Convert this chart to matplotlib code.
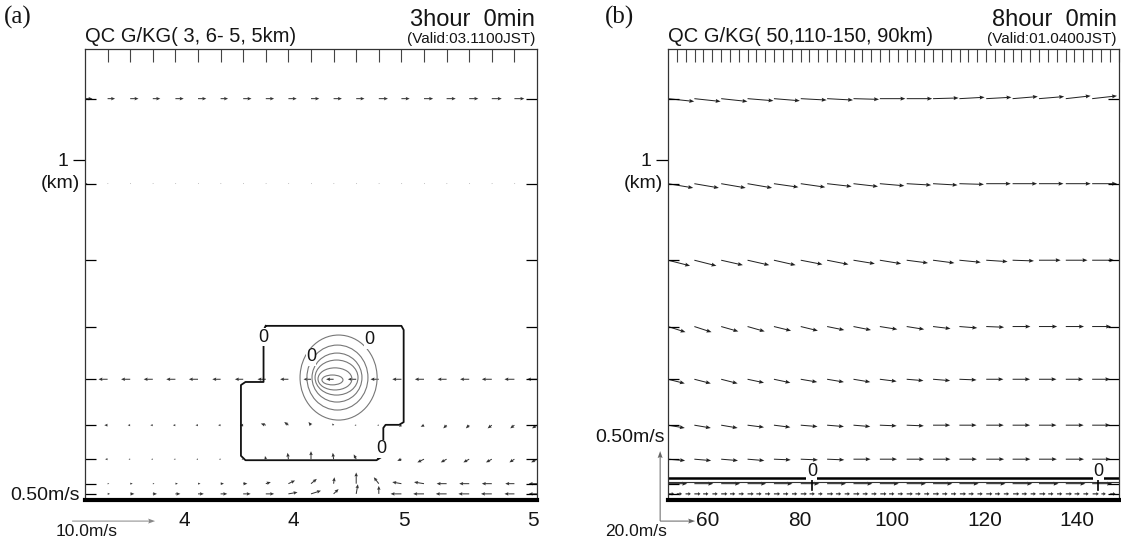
import matplotlib
matplotlib.use('Agg')
import matplotlib.pyplot as plt
from matplotlib.patches import Ellipse
from matplotlib.ticker import FixedLocator
import numpy as np

plt.rcParams['font.family'] = ['Liberation Sans', 'DejaVu Sans']

W, H = 1121, 542

# model levels (km) shared by both panels
levels = [1.18, 0.93, 0.705, 0.51, 0.355, 0.22, 0.12, 0.048, 0.018]

# ---- panel (a) : 3 hour, x in km ----
xa = [3.5, 3.6, 3.7, 3.8, 3.9, 4.0, 4.1, 4.2, 4.3, 4.4, 4.5,
      4.6, 4.7, 4.8, 4.9, 5.0, 5.1, 5.2, 5.3, 5.4, 5.5]
ua = [
    [0.9, 0.9, 1.0, 0.9, 1.0, 1.0, 0.9, 1.0, 1.0, 1.0, 1.0, 1.0, 1.0, 1.1, 1.0, 1.1, 1.1, 1.1, 1.2, 1.2, 1.3],
    [0.3, 0.1, 0.1, 0.1, 0.1, 0.1, 0.1, 0.1, 0.1, 0.1, 0.1, 0.1, 0.1, 0.1, 0.1, 0.1, 0.1, 0.1, 0.1, 0.1, 0.3],
    [0.0, 0.0, 0.0, 0.0, 0.0, 0.0, 0.0, 0.0, 0.0, 0.0, 0.0, 0.0, 0.0, 0.0, 0.0, 0.0, 0.0, 0.0, 0.0, 0.0, 0.0],
    [0.0, 0.0, 0.0, 0.0, 0.0, 0.0, 0.0, 0.0, 0.0, 0.0, 0.0, 0.0, 0.0, 0.0, 0.0, 0.0, 0.0, 0.0, 0.0, 0.0, 0.0],
    [-1.2, -1.1, -1.1, -1.1, -1.1, -1.1, -1.0, -1.0, -1.0, -1.0, -0.9, -0.9, -1.0, -1.0, -1.1, -1.1, -1.1, -1.1, -1.2, -1.2, -1.2],
    [-0.8, -0.4, -0.3, -0.3, -0.3, -0.3, -0.3, -0.4, -0.6, -0.5, -0.3, -0.2, -0.2, -0.2, -0.3, -0.4, -0.4, -0.4, -0.5, -0.5, -0.6],
    [-0.8, -0.3, -0.2, -0.2, -0.2, -0.2, -0.2, -0.2, -0.1, -0.1, 0.0, -0.1, -0.3, -0.3, -0.5, -0.8, -0.7, -0.7, -0.7, -0.6, -0.7],
    [-0.8, 0.2, 0.3, 0.2, 0.3, 0.3, 0.4, 0.5, 0.6, 0.8, 0.7, 0.1, 0.0, -0.6, -1.1, -1.2, -1.2, -1.2, -1.2, -1.1, -1.0],
    [-0.6, 0.3, 0.5, 0.5, 0.6, 0.7, 0.8, 0.9, 1.0, 1.1, 1.2, 0.6, 0.2, 0.0, -1.3, -1.3, -1.3, -1.3, -1.3, -1.2, -1.0],
]
wa = [
    [0] * 21,
    [0] * 21,
    [0] * 21,
    [0] * 21,
    [0] * 21,
    [0, 0, 0, 0, 0, 0, 0, 0, 0.01, 0.02, 0.02, 0.01, 0, 0, -0.01, -0.01, -0.02, -0.02, -0.02, -0.02, -0.02],
    [0, 0, 0, 0, 0, 0, 0, 0, 0.02, 0.04, 0.05, 0.04, 0.03, 0.02, -0.01, -0.02, -0.02, -0.02, -0.02, -0.02, -0.02],
    [0, 0, 0, 0, 0, 0, 0, 0, 0.01, 0.02, 0.03, 0.04, 0.07, 0.04, 0.01, 0.01, 0, 0, 0, 0, 0],
    [0, 0, 0, 0, 0, 0, 0, 0, 0, 0.01, 0.02, 0.03, 0.06, 0.05, 0, 0, 0, 0, 0, 0, 0],
]
# cloud boundary (QC = 0 contour)
cont0_x = [4.30, 4.90, 4.91, 4.91, 4.89, 4.83, 4.82, 4.82, 4.79, 4.21, 4.19, 4.19, 4.21, 4.29, 4.29, 4.30]
cont0_z = [0.512, 0.512, 0.50, 0.229, 0.221, 0.221, 0.212, 0.130, 0.117, 0.117, 0.130, 0.338, 0.347, 0.347, 0.50, 0.512]
# inner QC contours: centre, width, height
loop_x = [4.622, 4.617, 4.615, 4.613, 4.606, 4.595]
loop_z = [0.360, 0.360, 0.360, 0.360, 0.356, 0.353]
loop_w = [0.341, 0.270, 0.221, 0.190, 0.150, 0.093]
loop_h = [0.250, 0.191, 0.144, 0.103, 0.065, 0.029]
lab_a_x = [4.288, 4.757, 4.50, 4.81]
lab_a_z = [0.479, 0.471, 0.421, 0.150]
ticks_a = [3.94, 4.42, 4.91, 5.48]
ticklab_a = ['4', '4', '5', '5']

# ---- panel (b) : 8 hour, x in km ----
xb = [51.5, 57.2, 63.0, 68.7, 74.4, 80.2, 85.9, 91.6, 97.3, 103.1, 108.8,
      114.5, 120.3, 126.0, 131.7, 137.5, 143.2]
ub = [
    [15.0, 15.0, 15.0, 14.8, 14.8, 14.8, 14.8, 14.6, 14.6, 14.6, 14.6, 14.4, 14.4, 14.4, 14.4, 14.2, 14.2],
    [14.4, 14.0, 14.0, 14.0, 14.0, 14.0, 14.0, 14.0, 14.0, 14.0, 14.0, 14.0, 14.0, 14.0, 14.0, 14.2, 14.2],
    [12.6, 12.6, 12.4, 12.4, 12.4, 12.4, 12.2, 12.2, 12.2, 12.2, 12.2, 12.2, 12.2, 12.2, 12.4, 12.4, 12.6],
    [10.0, 9.8, 9.8, 9.8, 9.8, 9.8, 9.8, 10.0, 10.0, 10.0, 10.0, 10.2, 10.2, 10.2, 10.4, 10.4, 10.8],
    [9.6, 9.4, 9.4, 9.4, 9.4, 9.4, 9.6, 9.6, 9.6, 9.6, 9.8, 9.8, 9.8, 10.0, 10.0, 10.0, 10.4],
    [9.6, 9.4, 9.4, 9.4, 9.4, 9.6, 9.6, 9.6, 9.6, 9.8, 9.8, 9.8, 10.0, 10.0, 10.0, 10.2, 10.4],
    [9.8, 9.6, 9.6, 9.6, 9.6, 9.8, 9.8, 9.8, 9.8, 10.0, 10.0, 10.0, 10.2, 10.2, 10.2, 10.4, 10.6],
    [11.0, 10.8, 10.8, 10.6, 10.6, 10.6, 10.8, 10.8, 10.8, 11.0, 11.0, 11.0, 11.0, 11.2, 11.2, 11.2, 11.4],
]
wb = [
    [-0.02, -0.02, -0.02, -0.015, -0.015, -0.01, -0.01, -0.005, 0.0, 0.0, 0.005, 0.01, 0.01, 0.015, 0.015, 0.02, 0.02],
    [-0.03, -0.03, -0.03, -0.03, -0.025, -0.025, -0.02, -0.02, -0.015, -0.01, -0.01, -0.005, 0.0, 0.0, 0.0, 0.0, 0.0],
    [-0.04, -0.04, -0.035, -0.035, -0.035, -0.03, -0.03, -0.025, -0.025, -0.02, -0.02, -0.015, -0.01, -0.005, 0.0, 0.0, 0.0],
    [-0.04, -0.04, -0.035, -0.035, -0.03, -0.03, -0.025, -0.025, -0.02, -0.02, -0.015, -0.01, -0.005, 0.0, 0.0, 0.0, 0.0],
    [-0.03, -0.03, -0.03, -0.025, -0.025, -0.02, -0.02, -0.02, -0.015, -0.01, -0.01, -0.005, 0.0, 0.0, 0.0, 0.0, 0.0],
    [-0.02, -0.02, -0.02, -0.015, -0.015, -0.01, -0.01, -0.01, -0.005, -0.005, 0.0, 0.0, 0.0, 0.0, 0.0, 0.0, 0.0],
    [-0.01, -0.01, -0.01, -0.01, -0.005, -0.005, -0.005, 0.0, 0.0, 0.0, 0.0, 0.0, 0.0, 0.0, 0.0, 0.0, 0.0],
    [0.0, 0.0, 0.0, 0.0, 0.0, 0.0, 0.0, 0.0, 0.0, 0.0, 0.0, 0.0, 0.0, 0.0, 0.0, 0.0, 0.0],
]
# near-surface row on the fine grid
xb_sfc = [51.5, 53.4, 55.3, 57.2, 59.1, 61.1, 63.0, 64.9, 66.8, 68.7, 70.6, 72.5, 74.4, 76.4, 78.3,
          80.2, 82.1, 84.0, 85.9, 87.8, 89.7, 91.6, 93.6, 95.5, 97.4, 99.3, 101.2, 103.1, 105.0,
          106.9, 108.8, 110.8, 112.7, 114.6, 116.5, 118.4, 120.3, 122.2, 124.1, 126.1, 128.0,
          129.9, 131.8, 133.7, 135.6, 137.5, 139.4, 141.3, 143.3, 145.2, 147.1]
ub_sfc = [3.5, 3.0, 3.0, 3.5, 3.0, 3.0, 3.5, 3.0, 3.0, 3.5, 3.0, 3.0, 3.5, 3.0, 3.0, 3.5, 3.0,
          2.5, 3.5, 3.0, 3.0, 3.5, 3.0, 3.0, 3.5, 3.0, 3.0, 3.5, 3.0, 3.0, 3.5, 3.0, 3.0, 3.5,
          3.0, 3.0, 3.5, 3.0, 3.0, 3.5, 3.0, 3.0, 3.5, 3.0, 3.0, 3.5, 3.0, 3.0, 3.5, 2.5, 3.0]
cont_b_x = [51.5, 149.0]
cont_b_z = [0.064, 0.064]
lab_b_x = [82.6, 144.5]
lab_b_z = [0.085, 0.085]
ticks_b = [60, 80, 100, 120, 140]

ink = '#151515'


def fx(px):
    return px / W


def fy(py):
    return 1 - py / H


fig = plt.figure(figsize=(W / 100, H / 100), dpi=100)
ax_a = fig.add_axes([fx(85), fy(500), 452 / W, 451 / H])
ax_b = fig.add_axes([fx(668), fy(500), 451 / W, 451 / H])


def frame(ax, xlim, top_ticks):
    ax.set_xlim(*xlim)
    ax.set_ylim(0, 1.326)
    for s in ax.spines.values():
        s.set_color('#333333')
        s.set_linewidth(0.9)
    ax.spines['bottom'].set_linewidth(3)
    ax.spines['bottom'].set_color('black')
    ax.set_yticks([1])
    ax.set_yticklabels(['1'], fontsize=14, color=ink)
    ax.yaxis.set_minor_locator(FixedLocator(levels))
    ax.tick_params(axis='y', which='major', direction='out', length=9, width=0.9, left=True, right=False, pad=3)
    ax.tick_params(axis='y', which='minor', direction='in', length=8, width=0.9, left=True, right=True)
    ax.xaxis.set_minor_locator(FixedLocator(top_ticks))
    ax.tick_params(axis='x', which='minor', direction='in', length=9, width=0.8,
                   top=True, bottom=False, color='#444444')
    ax.tick_params(axis='x', which='major', length=0, pad=8, labelsize=15, labelcolor=ink)
    ax.text(-0.012, 0.93, '(km)', transform=ax.get_yaxis_transform(), ha='right', va='center',
            fontsize=14, color=ink)


# ---------------- panel (a) ----------------
frame(ax_a, (3.5, 5.5), xa[1:-1])
ax_a.set_xticks(ticks_a)
ax_a.set_xticklabels(ticklab_a)

ratio_a = 19.3
for z, u, w in zip(levels, ua, wa):
    u = np.array(u, dtype=float)
    w = np.array(w, dtype=float)
    keep = (np.abs(u) + np.abs(w)) > 0
    if keep.any():
        ax_a.quiver(np.array(xa)[keep], np.full(keep.sum(), z), u[keep], w[keep] * ratio_a,
                    angles='uv', scale_units='dots', scale=1 / 8.3, pivot='tail',
                    units='dots', width=1.0, headwidth=3.5, headlength=4, headaxislength=3.5,
                    minshaft=1, minlength=0.8, color='#333333')

for cx, cz, ew, eh in zip(loop_x, loop_z, loop_w, loop_h):
    ax_a.add_patch(Ellipse((cx, cz), ew, eh, fill=False, ec='#777777', lw=0.8))
ax_a.plot(cont0_x, cont0_z, color='#111111', lw=1.3)
for lx, lz in zip(lab_a_x, lab_a_z):
    ax_a.text(lx, lz, '0', ha='center', va='center', fontsize=13, color=ink,
              bbox=dict(fc='white', ec='none', pad=0.3))

# reference arrow (a)
qa = ax_a.quiver([3.443], [-0.062], [10.0], [0.0], angles='uv', scale_units='dots', scale=1 / 8.3,
                 pivot='tail', units='dots', width=1.0, headwidth=5, headlength=7, headaxislength=6,
                 color='#888888')
qa.set_clip_on(False)
fig.text(fx(87), fy(532), '10.0m/s', ha='center', va='center', fontsize=12.5, color=ink)
fig.text(fx(80), fy(495), '0.50m/s', ha='right', va='center', fontsize=14, color=ink)

# ---------------- panel (b) ----------------
fine = np.arange(51.5 + 1.91, 149.0, 1.91)
frame(ax_b, (51.5, 149.0), fine)
ax_b.set_xticks(ticks_b)
ax_b.set_xticklabels([str(t) for t in ticks_b])

ratio_b = 80
for z, u, w in zip(levels[:8], ub, wb):
    ax_b.quiver(xb, np.full(len(xb), z), u, np.array(w) * ratio_b,
                angles='uv', scale_units='dots', scale=1 / 1.75, pivot='tail',
                units='dots', width=1.0, headwidth=4, headlength=5, headaxislength=4.5,
                color='#222222')
ax_b.quiver(xb_sfc, np.full(len(xb_sfc), levels[8]), ub_sfc, np.zeros(len(xb_sfc)),
            angles='uv', scale_units='dots', scale=1 / 1.75, pivot='tail',
            units='dots', width=1.2, headwidth=3, headlength=2, headaxislength=2,
            color='#333333')
ax_b.plot(cont_b_x, cont_b_z, color='black', lw=1.8)
ax_b.plot(cont_b_x, [0.052, 0.052], color='#333333', lw=0.8)
for lx, lz in zip(lab_b_x, lab_b_z):
    ax_b.plot([lx, lx], [0.075, 0.03], color='black', lw=1.2)
    ax_b.text(lx, lz, '0', ha='center', va='center', fontsize=13, color=ink,
              bbox=dict(fc='white', ec='none', pad=0.3))

# reference arrows (b)
qb = ax_b.quiver([49.8, 49.8], [-0.062, -0.062], [20.0, 0.0], [0.0, 0.5 * ratio_b],
                 angles='uv', scale_units='dots', scale=1 / 1.75, pivot='tail',
                 units='dots', width=1.0, headwidth=5, headlength=7, headaxislength=6,
                 color='#666666')
qb.set_clip_on(False)
fig.text(fx(636), fy(532), '20.0m/s', ha='center', va='center', fontsize=12.5, color=ink)
fig.text(fx(665), fy(437), '0.50m/s', ha='right', va='center', fontsize=14, color=ink)

# ---------------- headings ----------------
fig.text(fx(4), fy(17), '(a)', family=['Liberation Serif', 'DejaVu Serif'], fontsize=18,
         ha='left', va='center', color=ink)
fig.text(fx(605), fy(17), '(b)', family=['Liberation Serif', 'DejaVu Serif'], fontsize=18,
         ha='left', va='center', color=ink)
fig.text(fx(85), fy(36), 'QC G/KG( 3, 6- 5, 5km)', fontsize=14.5, ha='left', va='center', color=ink)
fig.text(fx(668), fy(36), 'QC G/KG( 50,110-150, 90km)', fontsize=14.5, ha='left', va='center', color=ink)
fig.text(fx(535), fy(20), '3hour  0min', fontsize=17, ha='right', va='center', color=ink)
fig.text(fx(535), fy(39), '(Valid:03.1100JST)', fontsize=11, ha='right', va='center', color=ink)
fig.text(fx(1117), fy(20), '8hour  0min', fontsize=17, ha='right', va='center', color=ink)
fig.text(fx(1117), fy(39), '(Valid:01.0400JST)', fontsize=11, ha='right', va='center', color=ink)

fig.savefig('out.png', dpi=100)
